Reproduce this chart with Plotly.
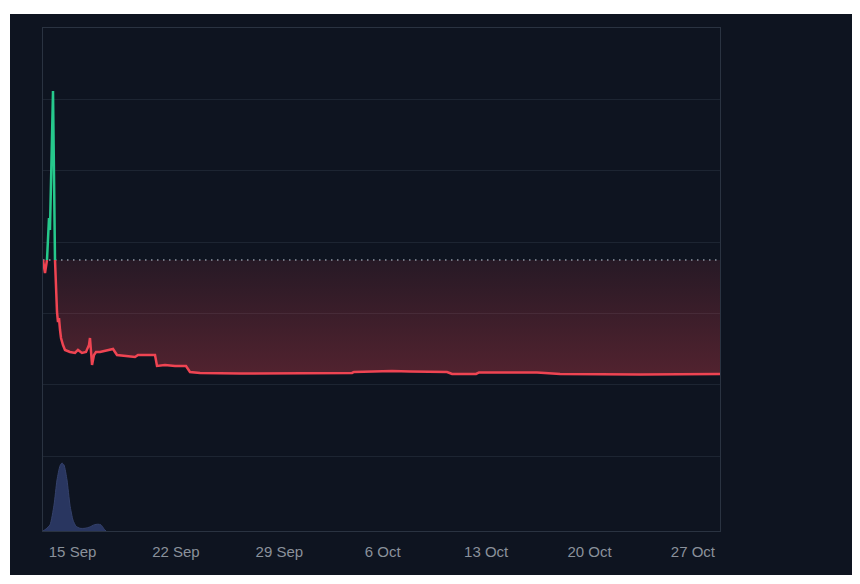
import plotly.graph_objects as go

# ---- data ----
base_price = 3.748

price_time = [
    "2024-09-13 00:00", "2024-09-13 03:15", "2024-09-13 06:30", "2024-09-13 09:45",
    "2024-09-13 11:20", "2024-09-13 16:15", "2024-09-13 19:30", "2024-09-13 21:10",
    "2024-09-13 22:45", "2024-09-14 00:20", "2024-09-14 02:00", "2024-09-14 03:40",
    "2024-09-14 05:15", "2024-09-14 08:30", "2024-09-14 11:45", "2024-09-14 19:50",
    "2024-09-15 04:00", "2024-09-15 08:50", "2024-09-15 15:20", "2024-09-15 21:50",
    "2024-09-16 02:45", "2024-09-16 04:20", "2024-09-16 07:40", "2024-09-16 10:50",
    "2024-09-16 14:10", "2024-09-16 20:40", "2024-09-17 04:45", "2024-09-17 12:50",
    "2024-09-17 17:45", "2024-09-18 00:15", "2024-09-18 13:15", "2024-09-19 05:30",
    "2024-09-19 10:20", "2024-09-20 05:50", "2024-09-20 14:00", "2024-09-20 17:15",
    "2024-09-21 06:15", "2024-09-21 22:30", "2024-09-22 16:20", "2024-09-22 22:50",
    "2024-09-23 15:10", "2024-09-26 08:10", "2024-09-30 09:40", "2024-10-03 22:10",
    "2024-10-04 01:20", "2024-10-06 15:10", "2024-10-07 20:20", "2024-10-10 08:30",
    "2024-10-10 16:40", "2024-10-12 07:40", "2024-10-12 12:30", "2024-10-16 10:45",
    "2024-10-18 00:10", "2024-10-23 10:10", "2024-10-28 20:00",
]
price_value = [
    3.748, 3.566, 3.748, 4.337,
    4.169, 6.117, 3.748, 3.328,
    3.020, 2.879, 2.935, 2.767,
    2.655, 2.557, 2.487, 2.459,
    2.445, 2.487, 2.445, 2.459,
    2.557, 2.655, 2.277, 2.417,
    2.459, 2.459, 2.473, 2.487,
    2.501, 2.417, 2.403, 2.389,
    2.417, 2.417, 2.417, 2.263,
    2.277, 2.263, 2.263, 2.179,
    2.165, 2.158, 2.165, 2.165,
    2.179, 2.193, 2.186, 2.179,
    2.151, 2.151, 2.172, 2.172,
    2.151, 2.144, 2.151,
]

volume_time = [
    "2024-09-13 00:00", "2024-09-13 04:50", "2024-09-13 11:20", "2024-09-13 17:50",
    "2024-09-13 22:45", "2024-09-14 03:40", "2024-09-14 06:50", "2024-09-14 10:10",
    "2024-09-14 15:00", "2024-09-14 19:50", "2024-09-15 00:45", "2024-09-15 05:40",
    "2024-09-15 12:10", "2024-09-15 20:15", "2024-09-16 04:20", "2024-09-16 10:50",
    "2024-09-16 17:20", "2024-09-16 22:15", "2024-09-17 03:10", "2024-09-17 06:20",
]
volume_value = [0, 3, 9, 38, 75, 96, 100, 97, 75, 38, 16, 7, 4, 4, 6, 9, 10, 9, 3, 0]

tick_dates = ["2024-09-15", "2024-09-22", "2024-09-29", "2024-10-06",
              "2024-10-13", "2024-10-20", "2024-10-27"]
tick_labels = ["15 Sep", "22 Sep", "29 Sep", "6 Oct", "13 Oct", "20 Oct", "27 Oct"]

# horizontal price grid levels
price_grid = [1, 2, 3, 4, 5, 6]

# ---- styles ----
BG = "#0e1420"
GRID = "#1d2532"
FRAME = "#2a3341"
RED = "#ef4452"
GREEN = "#26c98c"
TEXT = "#8a919b"

above = [v if v >= base_price else None for v in price_value]
below = [v if v <= base_price else None for v in price_value]
below_fill = [min(v, base_price) for v in price_value]
base_line = [base_price for _ in price_value]

fig = go.Figure()

# volume (secondary axis)
fig.add_trace(go.Scatter(
    x=volume_time, y=volume_value, yaxis="y2", mode="lines",
    line=dict(color="#34416b", width=1, shape="spline", smoothing=0.6),
    fill="tozeroy", fillcolor="rgba(52,68,120,0.72)", hoverinfo="skip",
))

# baseline reference for fill
fig.add_trace(go.Scatter(
    x=price_time, y=base_line, mode="lines",
    line=dict(color="rgba(0,0,0,0)", width=0), hoverinfo="skip",
))
# red gradient fill between baseline and price
fig.add_trace(go.Scatter(
    x=price_time, y=below_fill, mode="lines",
    line=dict(color="rgba(0,0,0,0)", width=0),
    fill="tonexty",
    fillgradient=dict(
        type="vertical",
        colorscale=[[0, "rgba(239,68,82,0.30)"], [1, "rgba(239,68,82,0.11)"]],
        start=min(price_value), stop=base_price,
    ),
    hoverinfo="skip",
))
# dotted baseline
fig.add_trace(go.Scatter(
    x=[price_time[0], price_time[-1]], y=[base_price, base_price], mode="lines",
    line=dict(color="#8f96a2", width=1.4, dash="1.5px,4.5px"), hoverinfo="skip",
))
# price line, below baseline
fig.add_trace(go.Scatter(
    x=price_time, y=below, mode="lines",
    line=dict(color=RED, width=2.5), connectgaps=False,
))
# price line, above baseline
fig.add_trace(go.Scatter(
    x=price_time, y=above, mode="lines",
    line=dict(color=GREEN, width=2.5), connectgaps=False,
))

# plot area in figure pixels (page has an 8px body margin)
PL, PT, PW, PH = 35, 20, 677, 503
FW, FH = 852, 576

# dark panel behind everything
fig.add_shape(
    type="rect", xref="paper", yref="paper",
    x0=(2 - PL) / PW, x1=(845 - PL) / PW,
    y0=-(567 - (PT + PH)) / PH, y1=1 + (PT - 6) / PH,
    fillcolor=BG, line=dict(width=0), layer="below",
)

fig.update_layout(
    width=FW, height=FH,
    margin=dict(l=PL, r=FW - PL - PW, t=PT, b=FH - PT - PH),
    paper_bgcolor="white", plot_bgcolor=BG,
    showlegend=False,
    font=dict(family="Liberation Sans, Arial, sans-serif", color=TEXT, size=15),
    xaxis=dict(
        type="date",
        range=["2024-09-13 00:00", "2024-10-28 20:00"],
        tickvals=tick_dates, ticktext=tick_labels,
        showgrid=False, zeroline=False,
        showline=True, linecolor=FRAME, linewidth=1, mirror=True,
        ticks="", ticklabelstandoff=7,
        tickfont=dict(size=15, color=TEXT),
    ),
    yaxis=dict(
        range=[-0.05, 7.0], tickmode="array", tickvals=price_grid,
        showticklabels=False, ticks="",
        showgrid=True, gridcolor=GRID, gridwidth=1,
        zeroline=False,
        showline=True, linecolor=FRAME, linewidth=1, mirror=True,
    ),
    yaxis2=dict(
        overlaying="y", range=[0, 740], visible=False,
        showgrid=False, zeroline=False,
    ),
)

fig.write_html("out.html")
